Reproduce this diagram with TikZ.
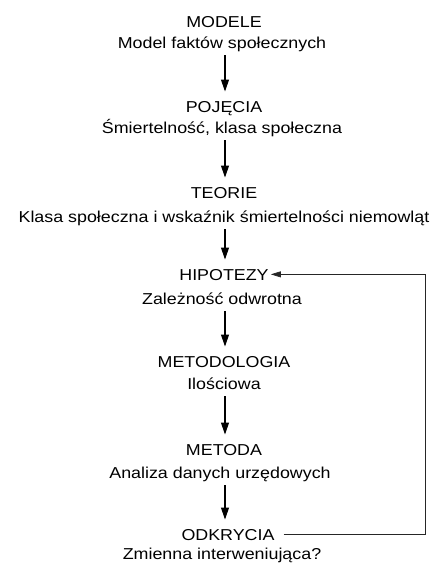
\documentclass[tikz,border=0pt]{standalone}
\usepackage{fontspec}
\setmainfont[FakeStretch=1.13]{Liberation Sans}
\usetikzlibrary{arrows.meta}
\begin{document}
\begin{tikzpicture}[x=1pt,y=-1pt,
  lbl/.style={inner sep=0pt,text height=11.3pt,text depth=0pt,anchor=base,
    font=\fontsize{15.8}{19}\selectfont},
  flow/.style={line width=1.1pt,-{Triangle[width=8pt,length=12pt]},
    shorten <=7pt,shorten >=9pt},
  fb/.style={line width=0.7pt,black!85,-{Triangle[width=6pt,length=10pt]},
    shorten <=9pt,shorten >=2pt}]
\useasboundingbox (0,0) rectangle (437,566);
\node[lbl] (t1) at (224,27) {MODELE};
\node[lbl] (s1) at (222,48) {Model faktów społecznych};
\node[lbl] (t2) at (224,112) {POJĘCIA};
\node[lbl] (s2) at (222,133) {Śmiertelność, klasa społeczna};
\node[lbl] (t3) at (224,198) {TEORIE};
\node[lbl] (s3) at (224,222) {Klasa społeczna i wskaźnik śmiertelności niemowląt};
\node[lbl] (t4) at (224,280) {HIPOTEZY};
\node[lbl] (s4) at (222,304) {Zależność odwrotna};
\node[lbl] (t5) at (224,367) {METODOLOGIA};
\node[lbl] (s5) at (224,389) {Ilościowa};
\node[lbl] (t6) at (224,455) {METODA};
\node[lbl] (s6) at (220,478) {Analiza danych urzędowych};
\node[lbl] (t7) at (228,540) {ODKRYCIA};
\node[lbl] (s7) at (222,559) {Zmienna interweniująca?};
\coordinate (fbR) at (425,0);
\foreach \a/\b in {s1/t2,s2/t3,s3/t4,s4/t5,s5/t6,s6/t7}
  \draw[flow] (225,0 |- \a.south) -- (225,0 |- \b.north);
\draw[fb] (t7.east) -- (t7.east -| fbR) -- (t4.east -| fbR) -- (t4.east);
\end{tikzpicture}
\end{document}
